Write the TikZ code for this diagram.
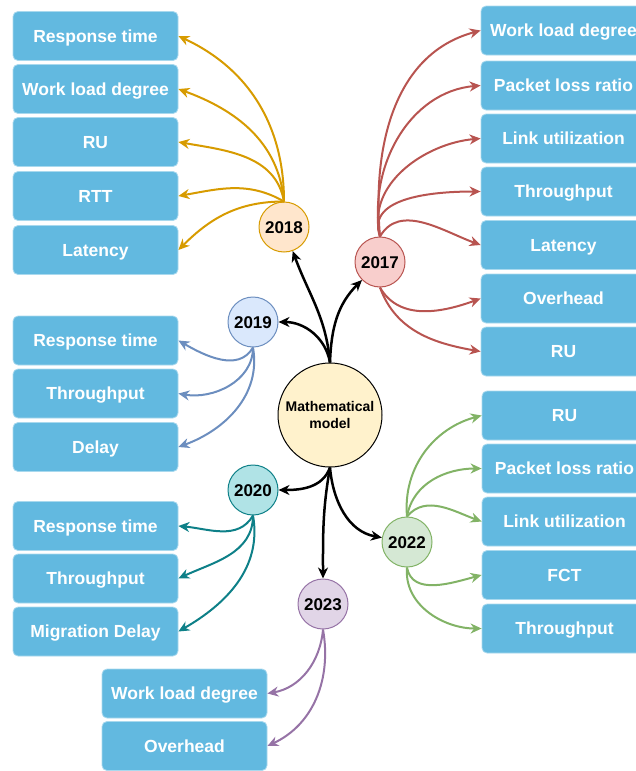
\documentclass[tikz,border=0pt]{standalone}
\usepackage{fontspec}
\setmainfont{Liberation Sans}
\usetikzlibrary{arrows.meta}
\definecolor{boxblue}{RGB}{98,185,224}
\definecolor{mmfill}{HTML}{FFF2CC}
\definecolor{c17}{HTML}{B85450}\definecolor{f17}{HTML}{F8CECC}
\definecolor{c18}{HTML}{D79B00}\definecolor{f18}{HTML}{FFE6CC}
\definecolor{c19}{HTML}{6C8EBF}\definecolor{f19}{HTML}{DAE8FC}
\definecolor{c20}{HTML}{0E8088}\definecolor{f20}{HTML}{B0E3E6}
\definecolor{c22}{HTML}{82B366}\definecolor{f22}{HTML}{D5E8D4}
\definecolor{c23}{HTML}{9673A6}\definecolor{f23}{HTML}{E1D5E7}
\tikzset{
    >={Stealth[length=11pt,width=10pt,inset=3.5pt]},
    item/.style={rectangle, rounded corners=5pt, fill=boxblue, draw=boxblue!55!white,
        line width=0.8pt, minimum width=165pt, minimum height=49pt, inner sep=2pt,
        text height=12.6pt, text depth=0pt,
        text=white, font=\fontsize{17.5}{21}\selectfont\bfseries},
    disc/.style={circle, minimum size=50pt, inner sep=0pt, line width=1pt},
    year/.style={disc, text height=12.2pt, text depth=0pt,
        font=\fontsize{17}{20}\selectfont\bfseries},
    link/.style={->, line width=2pt}
}

\begin{document}
\begin{tikzpicture}[x=1pt, y=1pt]
    \useasboundingbox (0,0) rectangle (636,-771);
    \clip (0,0) rectangle (636,-771);
    % centre and years
    \node[disc, minimum size=104pt, fill=mmfill, draw=black, align=center,
        font=\fontsize{14}{17}\selectfont\bfseries] (mm) at (330,-415) {Mathematical\\model};
    \node[year, fill=f18, draw=c18] (y18) at (284,-227) {2018};
    \node[year, fill=f17, draw=c17] (y17) at (380,-262) {2017};
    \node[year, fill=f19, draw=c19] (y19) at (253,-322) {2019};
    \node[year, fill=f20, draw=c20] (y20) at (253,-490) {2020};
    \node[year, fill=f23, draw=c23] (y23) at (323,-604) {2023};
    \node[year, fill=f22, draw=c22] (y22) at (407,-542) {2022};
    % boxes
    \foreach \i/\y/\txt in {1/36/Response time, 2/89/Work load degree, 3/142/RU, 4/196/RTT, 5/250/Latency}
        \node[item] (b18-\i) at (95.5,-\y) {\txt};
    \foreach \i/\y/\txt in {1/30.5/Work load degree, 2/85.5/Packet loss ratio, 3/138.5/Link utilization,
            4/191.5/Throughput, 5/245/Latency, 6/298.5/Overhead, 7/351.5/RU}
        \node[item] (b17-\i) at (563.5,-\y) {\txt};
    \foreach \i/\y/\txt in {1/340.5/Response time, 2/393.5/Throughput, 3/447/Delay}
        \node[item] (b19-\i) at (95.5,-\y) {\txt};
    \foreach \i/\y/\txt in {1/526/Response time, 2/578.5/Throughput, 3/631.5/Migration Delay}
        \node[item] (b20-\i) at (95.5,-\y) {\txt};
    \foreach \i/\y/\txt in {1/693.5/Work load degree, 2/746/Overhead}
        \node[item] (b23-\i) at (184.5,-\y) {\txt};
    \foreach \i/\y/\txt in {1/415.5/RU, 2/468.5/Packet loss ratio, 3/521.5/Link utilization,
            4/575/FCT, 5/628.5/Throughput}
        \node[item] (b22-\i) at (564.5,-\y) {\txt};
    % links from centre
    \begin{scope}[link, line width=2.5pt]
        \draw (mm.north) to[out=95, in=-70] (y18);
        \draw (mm.north) to[out=88, in=225] (y17);
        \draw (mm.north) to[out=100, in=0] (y19);
        \draw (mm.south) to[out=-110, in=0] (y20);
        \draw (mm.south) to[out=-100, in=90] (y23);
        \draw (mm.south) to[out=-85, in=170] (y22);
    \end{scope}
    % links to boxes
    \foreach \i/\o/\n in {1/90/-25, 2/95/-20, 3/100/-10, 4/150/10, 5/180/45}
        \draw[link, c18] (y18.north) to[out=\o, in=\n] (b18-\i.east);
    \foreach \i/\o/\n in {1/95/195, 2/100/185, 3/105/185, 4/110/180, 5/60/160}
        \draw[link, c17] (y17.north) to[out=\o, in=\n] (b17-\i.west);
    \foreach \i/\o/\n in {6/-60/200, 7/-70/170}
        \draw[link, c17] (y17.south) to[out=\o, in=\n] (b17-\i.west);
    \foreach \i/\o/\n in {1/240/-30, 2/270/-10, 3/-80/20}
        \draw[link, c19] (y19.south) to[out=\o, in=\n] (b19-\i.east);
    \foreach \i/\o/\n in {1/240/-5, 2/-90/25, 3/-80/30}
        \draw[link, c20] (y20.south) to[out=\o, in=\n] (b20-\i.east);
    \foreach \i/\o/\n in {1/-95/10, 2/-80/25}
        \draw[link, c23] (y23.south) to[out=\o, in=\n] (b23-\i.east);
    \foreach \i/\o/\n in {1/95/195, 2/80/180, 3/50/160}
        \draw[link, c22] (y22.north) to[out=\o, in=\n] (b22-\i.west);
    \foreach \i/\o/\n in {4/-80/195, 5/-95/180}
        \draw[link, c22] (y22.south) to[out=\o, in=\n] (b22-\i.west);
\end{tikzpicture}
\end{document}
